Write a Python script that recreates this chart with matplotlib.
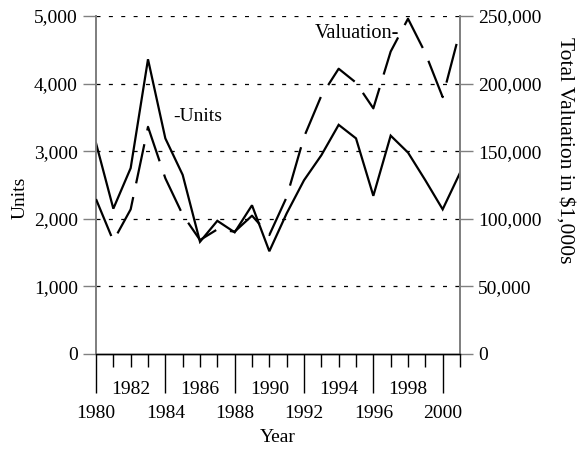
import matplotlib
matplotlib.use("Agg")
import matplotlib.pyplot as plt
from matplotlib.ticker import FixedLocator, FuncFormatter, FixedFormatter

plt.rcParams['font.family'] = ['Liberation Serif', 'DejaVu Serif']

years = list(range(1980, 2002))
units = [3120, 2150, 2750, 4360, 3190, 2650, 1660, 1970, 1800, 2200, 1520,
         2080, 2570, 2940, 3390, 3190, 2340, 3230, 2980, 2570, 2140, 2680]
valuation = [114600, 83600, 107000, 168000, 130000, 103000, 84300, 92200, 90500, 102300, 88000,
             116000, 160500, 191000, 211000, 200700, 181700, 223700, 248000, 222600, 190000, 239000]

units_ticks = [0, 1000, 2000, 3000, 4000, 5000]
val_ticks = [0, 50000, 100000, 150000, 200000, 250000]
upper_year_labels = [1982, 1986, 1990, 1994, 1998]
lower_year_labels = [1980, 1984, 1988, 1992, 1996, 2000]

W, H = 579, 451
fig = plt.figure(figsize=(W / 100, H / 100), dpi=100)
L, R, T, B = 96, 460, 16, 354
ax = fig.add_axes([L / W, 1 - B / H, (R - L) / W, (B - T) / H])
ax2 = ax.twinx()

gray = '#808080'
fs = 14

ax.set_xlim(1980, 2001)
ax.set_ylim(0, 5000)
ax2.set_ylim(0, 250000)

# grid
for v in units_ticks[1:]:
    ax.axhline(v, color='black', lw=0.9, linestyle=(0, (3.2, 6.7)), zorder=1)

ax.plot(years, units, color='black', lw=1.6, zorder=3, solid_joinstyle='miter')
ax2.plot(years, valuation, color='black', lw=1.6, linestyle=(0, (18.0, 6.3)), zorder=3)

# y axes
ax.yaxis.set_major_locator(FixedLocator(units_ticks))
ax.yaxis.set_major_formatter(FuncFormatter(lambda v, p: f"{int(v):,}"))
ax2.yaxis.set_major_locator(FixedLocator(val_ticks))
ax2.yaxis.set_major_formatter(FuncFormatter(lambda v, p: f"{int(v):,}"))
ax.tick_params(axis='y', direction='out', length=9.1, width=1.0, color=gray, pad=4, labelsize=fs)
ax2.tick_params(axis='y', direction='out', length=9.1, width=1.0, color=gray, pad=4, labelsize=fs)

# x axis: long major ticks with lower-row labels, short minor ticks with upper-row labels
ax.xaxis.set_major_locator(FixedLocator(lower_year_labels))
ax.xaxis.set_major_formatter(FixedFormatter([str(y) for y in lower_year_labels]))
minor_pos = [y for y in years if y not in lower_year_labels]
ax.xaxis.set_minor_locator(FixedLocator(minor_pos))
ax.xaxis.set_minor_formatter(FuncFormatter(lambda v, p: str(int(round(v))) if int(round(v)) in upper_year_labels else ""))
ax.tick_params(axis='x', which='major', direction='out', length=28, width=1.0, color='black', pad=8.8, labelsize=fs)
ax.tick_params(axis='x', which='minor', direction='out', length=9.1, width=1.0, color='black', pad=10.5, labelsize=fs)

for a in (ax, ax2):
    a.spines['top'].set_visible(False)
    a.spines['left'].set_color(gray)
    a.spines['right'].set_color(gray)
    a.spines['left'].set_linewidth(1.3)
    a.spines['right'].set_linewidth(1.3)
    a.spines['bottom'].set_color('black')
    a.spines['bottom'].set_linewidth(1.0)
    a.patch.set_visible(False)

ax.text(1984.43, 3506, "-Units", fontsize=fs, ha='left', va='center')
ax.text(1992.64, 4744, "Valuation-", fontsize=14.6, ha='left', va='center')

fig.text(20 / W, 1 - 198 / H, "Units", rotation=90, fontsize=fs, ha='center', va='center')
fig.text(565 / W, 1 - 150 / H, r"Total Valuation in \$1,000s", rotation=270, fontsize=15.5, ha='center', va='center')
fig.text(278 / W, 1 - 438 / H, "Year", fontsize=fs, ha='center', va='center')

fig.savefig("out.png", dpi=100)
